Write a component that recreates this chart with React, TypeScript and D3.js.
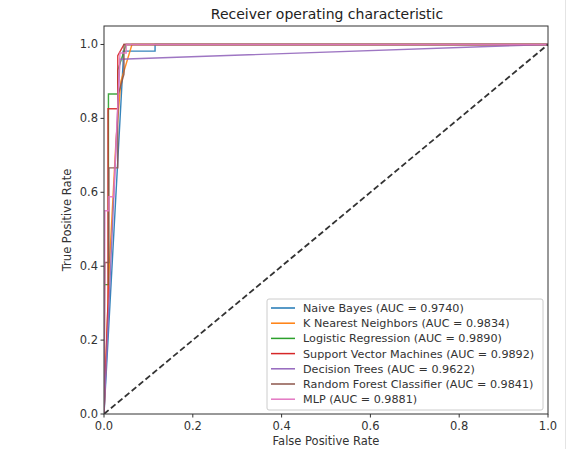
import React from "react";
import * as d3 from "d3";

const seriesNames = [
  "Naive Bayes (AUC = 0.9740)",
  "K Nearest Neighbors (AUC = 0.9834)",
  "Logistic Regression (AUC = 0.9890)",
  "Support Vector Machines (AUC = 0.9892)",
  "Decision Trees (AUC = 0.9622)",
  "Random Forest Classifier (AUC = 0.9841)",
  "MLP (AUC = 0.9881)",
];
const seriesColors = ["#1f77b4", "#ff7f0e", "#2ca02c", "#d62728", "#9467bd", "#8c564b", "#e377c2"];

const nbFpr = [0, 0.043, 0.043, 0.115, 0.115, 1];
const nbTpr = [0, 0.95, 0.982, 0.982, 1, 1];
const knnFpr = [0, 0.012, 0.027, 0.038, 0.063, 1];
const knnTpr = [0, 0.4, 0.74, 0.9, 1, 1];
const lrFpr = [0, 0, 0.01, 0.01, 0.031, 0.031, 0.05, 1];
const lrTpr = [0, 0.35, 0.35, 0.866, 0.866, 0.93, 1, 1];
const svmFpr = [0, 0.009, 0.009, 0.031, 0.031, 0.045, 1];
const svmTpr = [0, 0.3, 0.826, 0.826, 0.97, 1, 1];
const dtFpr = [0, 0.036, 1];
const dtTpr = [0, 0.96, 1];
const rfFpr = [0, 0.002, 0.011, 0.011, 0.031, 0.031, 0.045, 0.045, 0.065, 1];
const rfTpr = [0, 0.41, 0.41, 0.666, 0.666, 0.86, 0.92, 1, 1, 1];
const mlpFpr = [0, 0.002, 0.011, 0.011, 0.022, 0.036, 0.05, 0.05, 1];
const mlpTpr = [0, 0.55, 0.55, 0.588, 0.588, 0.977, 0.977, 1, 1];

const fprs = [nbFpr, knnFpr, lrFpr, svmFpr, dtFpr, rfFpr, mlpFpr];
const tprs = [nbTpr, knnTpr, lrTpr, svmTpr, dtTpr, rfTpr, mlpTpr];

const xTicks = [0, 0.2, 0.4, 0.6, 0.8, 1.0];
const yTicks = [0, 0.2, 0.4, 0.6, 0.8, 1.0];

const W = 578;
const H = 449;
const left = 104;
const right = 548;
const top = 26;
const bottom = 414;

export default function App() {
  const x = d3.scaleLinear().domain([0, 1]).range([left, right]);
  const y = d3.scaleLinear().domain([0, 1.05]).range([bottom, top]);
  const line = d3
    .line<[number, number]>()
    .x((d) => x(d[0]))
    .y((d) => y(d[1]));
  const font = "'DejaVu Sans', sans-serif";
  const textColor = "#333";
  const legX = 267;
  const legY = 299;
  const rowH = 15.2;

  return (
    <div style={{ position: "absolute", left: 0, top: 0 }}>
      <svg width={W} height={H} style={{ display: "block", background: "#fff" }}>
        <line x1={565.5} y1={0} x2={565.5} y2={H} stroke="#e4e4e4" strokeWidth={1} />
        <text x={(left + right) / 2 + 1} y={19} textAnchor="middle" fontFamily={font} fontSize={14} fill="#222">
          Receiver operating characteristic
        </text>
        <clipPath id="plotclip">
          <rect x={left} y={top} width={right - left} height={bottom - top} />
        </clipPath>
        <g clipPath="url(#plotclip)">
          {fprs.map((f, i) => (
            <path
              key={i}
              d={line(f.map((v, j) => [v, tprs[i][j]] as [number, number])) || ""}
              fill="none"
              stroke={seriesColors[i]}
              strokeWidth={1.4}
              strokeOpacity={0.9}
            />
          ))}
          <path
            d={line([[0, 0], [1, 1]]) || ""}
            fill="none"
            stroke="#333"
            strokeWidth={1.8}
            strokeDasharray="6,3"
          />
        </g>
        <rect x={left} y={top} width={right - left} height={bottom - top} fill="none" stroke="#333" strokeWidth={1} />
        {xTicks.map((t) => (
          <g key={"x" + t}>
            <line x1={x(t)} x2={x(t)} y1={bottom} y2={bottom + 3.5} stroke="#333" />
            <text x={x(t)} y={bottom + 16} textAnchor="middle" fontFamily={font} fontSize={11.5} fill={textColor}>
              {t.toFixed(1)}
            </text>
          </g>
        ))}
        {yTicks.map((t) => (
          <g key={"y" + t}>
            <line x1={left - 3.5} x2={left} y1={y(t)} y2={y(t)} stroke="#333" />
            <text x={left - 6} y={y(t) + 4} textAnchor="end" fontFamily={font} fontSize={11.5} fill={textColor}>
              {t.toFixed(1)}
            </text>
          </g>
        ))}
        <text x={(left + right) / 2} y={445} textAnchor="middle" fontFamily={font} fontSize={11.5} fill={textColor}>
          False Positive Rate
        </text>
        <text
          transform={`translate(71,${(top + bottom) / 2}) rotate(-90)`}
          textAnchor="middle"
          fontFamily={font}
          fontSize={11.5}
          fill={textColor}
        >
          True Positive Rate
        </text>
        <rect x={legX} y={legY} width={276} height={111} rx={2} fill="#fff" fillOpacity={0.85} stroke="#ccc" strokeWidth={1} />
        {seriesNames.map((name, i) => (
          <g key={name}>
            <line
              x1={legX + 4}
              x2={legX + 28}
              y1={legY + 9 + i * rowH}
              y2={legY + 9 + i * rowH}
              stroke={seriesColors[i]}
              strokeWidth={1.5}
            />
            <text x={legX + 36} y={legY + 13 + i * rowH} fontFamily={font} fontSize={11.2} fill={textColor}>
              {name}
            </text>
          </g>
        ))}
      </svg>
    </div>
  );
}
